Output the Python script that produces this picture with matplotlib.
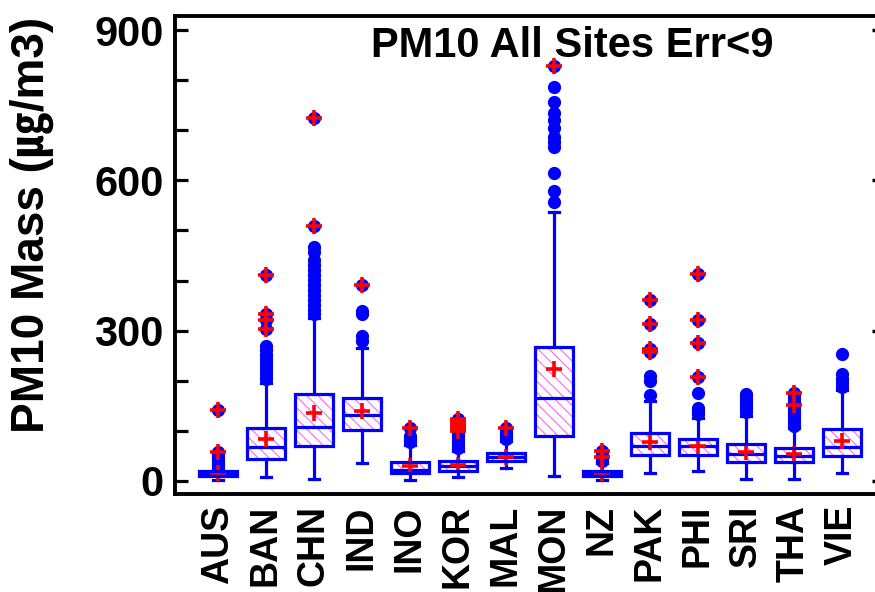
import matplotlib
matplotlib.use("Agg")
import matplotlib.pyplot as plt
from matplotlib.patches import PathPatch
from matplotlib.ticker import MultipleLocator

# ---- data -------------------------------------------------------------
countries = ["AUS", "BAN", "CHN", "IND", "INO", "KOR", "MAL",
             "MON", "NZ", "PAK", "PHI", "SRI", "THA", "VIE"]

whisker_lo = [2, 7, 3, 35, 1, 7, 25, 10, 1, 15, 19, 4, 4, 15]
q1 = [9, 43, 69, 102, 15, 20, 39, 90, 10, 51, 52, 37, 37, 50]
medians = [14, 67, 108, 132, 22, 29, 47, 165, 15, 70, 69, 53, 49, 67]
q3 = [19, 106, 173, 166, 38, 40, 55, 268, 19, 96, 84, 73, 65, 104]
whisker_hi = [26, 195, 325, 265, 72, 60, 80, 537, 36, 160, 126, 130, 106, 182]
means = [15, 83, 136, 140, 29, 32, 48, 223, 15, 78, 70, 58, 53, 80]

outliers = [
    [30, 34, 38, 42, 46, 50, 54, 58, 142],
    [204, 212, 220, 228, 236, 244, 252, 262, 270, 303, 321, 333, 411],
    [333, 342, 352, 362, 372, 382, 392, 402, 412, 422, 432, 442, 456, 466, 508, 724],
    [280, 289, 333, 339, 391],
    [78, 82, 86, 90, 106],
    [66, 72, 78, 84, 90, 96, 100, 106, 112, 118, 123],
    [84, 88, 92, 96, 100, 106],
    [557, 579, 614, 667, 677, 687, 704, 720, 734, 757, 786, 829],
    [40, 44, 47, 52, 56, 60],
    [172, 200, 210, 258, 263, 313, 362],
    [134, 140, 146, 175, 207, 275, 322, 413],
    [137, 143, 149, 155, 161, 167, 173],
    [110, 116, 122, 128, 134, 140, 146, 152, 158, 164, 170, 175],
    [187, 195, 203, 213, 253],
]

# extreme observations, flagged with a red plus
extremes = [
    [58, 142],
    [303, 321, 333, 411],
    [508, 724],
    [391],
    [106],
    [100, 106, 112, 118, 123],
    [106],
    [829],
    [47, 60],
    [258, 263, 313, 362],
    [207, 275, 322, 413],
    [],
    [152, 175],
    [],
]

# ---- style ------------------------------------------------------------
BLUE = "#0000ff"
RED = "#ff0000"
HATCH = "#ff66ff"
plt.rcParams["hatch.linewidth"] = 0.8

fig = plt.figure(figsize=(8.75, 5.92), dpi=100)
ax = fig.add_axes([0.2, 98 / 592, 0.8, 478 / 592])

positions = list(range(1, len(countries) + 1))
stats = []
for i, name in enumerate(countries):
    stats.append(dict(label=name, whislo=whisker_lo[i], q1=q1[i], med=medians[i],
                      q3=q3[i], whishi=whisker_hi[i], mean=means[i],
                      fliers=outliers[i]))

art = ax.bxp(
    stats, positions=positions, widths=0.8, capwidths=0.2,
    patch_artist=True, showmeans=True, showfliers=True,
    boxprops=dict(facecolor="white", edgecolor=HATCH, hatch="\\\\\\", linewidth=0),
    medianprops=dict(color=BLUE, linewidth=2.3),
    whiskerprops=dict(color=BLUE, linewidth=2.3),
    capprops=dict(color=BLUE, linewidth=2.3),
    flierprops=dict(marker="o", markerfacecolor=BLUE, markeredgecolor=BLUE,
                    markersize=8.5, linestyle="none"),
    meanprops=dict(marker="+", markeredgecolor=RED, markersize=11,
                   markeredgewidth=2.6, zorder=2.5),
)

# blue outline drawn over the hatched fill and the mean marks
for box in art["boxes"]:
    ax.add_patch(PathPatch(box.get_path(), facecolor="none", edgecolor=BLUE,
                           linewidth=2.3, zorder=3))

for pos, vals in zip(positions, extremes):
    if vals:
        ax.plot([pos] * len(vals), vals, linestyle="none", marker="+",
                markersize=11, markeredgewidth=2.6, color=RED, zorder=6)

# ---- axes -------------------------------------------------------------
ax.set_xlim(0.104, 14.69)
ax.set_ylim(-26, 928)
ax.set_yticks([0, 300, 600, 900])
ax.yaxis.set_minor_locator(MultipleLocator(100))
ax.tick_params(axis="y", which="both", direction="in", length=9, width=2.3,
               left=True, right=False, pad=8)
ax.set_yticklabels(["0", "300", "600", "900"], fontfamily="Liberation Sans",
                   fontweight="bold", fontsize=30)
ax.set_xticks(positions)
ax.set_xticklabels(countries, rotation=90, fontfamily="Liberation Sans",
                   fontweight="bold", fontsize=27)
ax.tick_params(axis="x", length=0, pad=8)

for side in ("left", "top", "bottom"):
    ax.spines[side].set_linewidth(2.8)
ax.spines["right"].set_visible(False)

right = ax.secondary_yaxis("right")
right.set_yticks([0, 300, 600, 900])
right.set_yticklabels([])
right.tick_params(direction="in", length=2.5, width=2.5)
right.spines["right"].set_visible(False)

fig.text(572 / 875, 1 - 46 / 592, "PM10 All Sites Err<9", ha="center", va="center",
         fontfamily="Liberation Sans", fontweight="bold", fontsize=30)
fig.text(32 / 875, 1 - 225 / 592, "PM10 Mass (\u338d/m3)", rotation=90,
         ha="center", va="center", fontfamily=["Liberation Sans", "Noto Sans CJK KR"],
         fontweight="bold", fontsize=33)

fig.savefig("out.png", dpi=100)
